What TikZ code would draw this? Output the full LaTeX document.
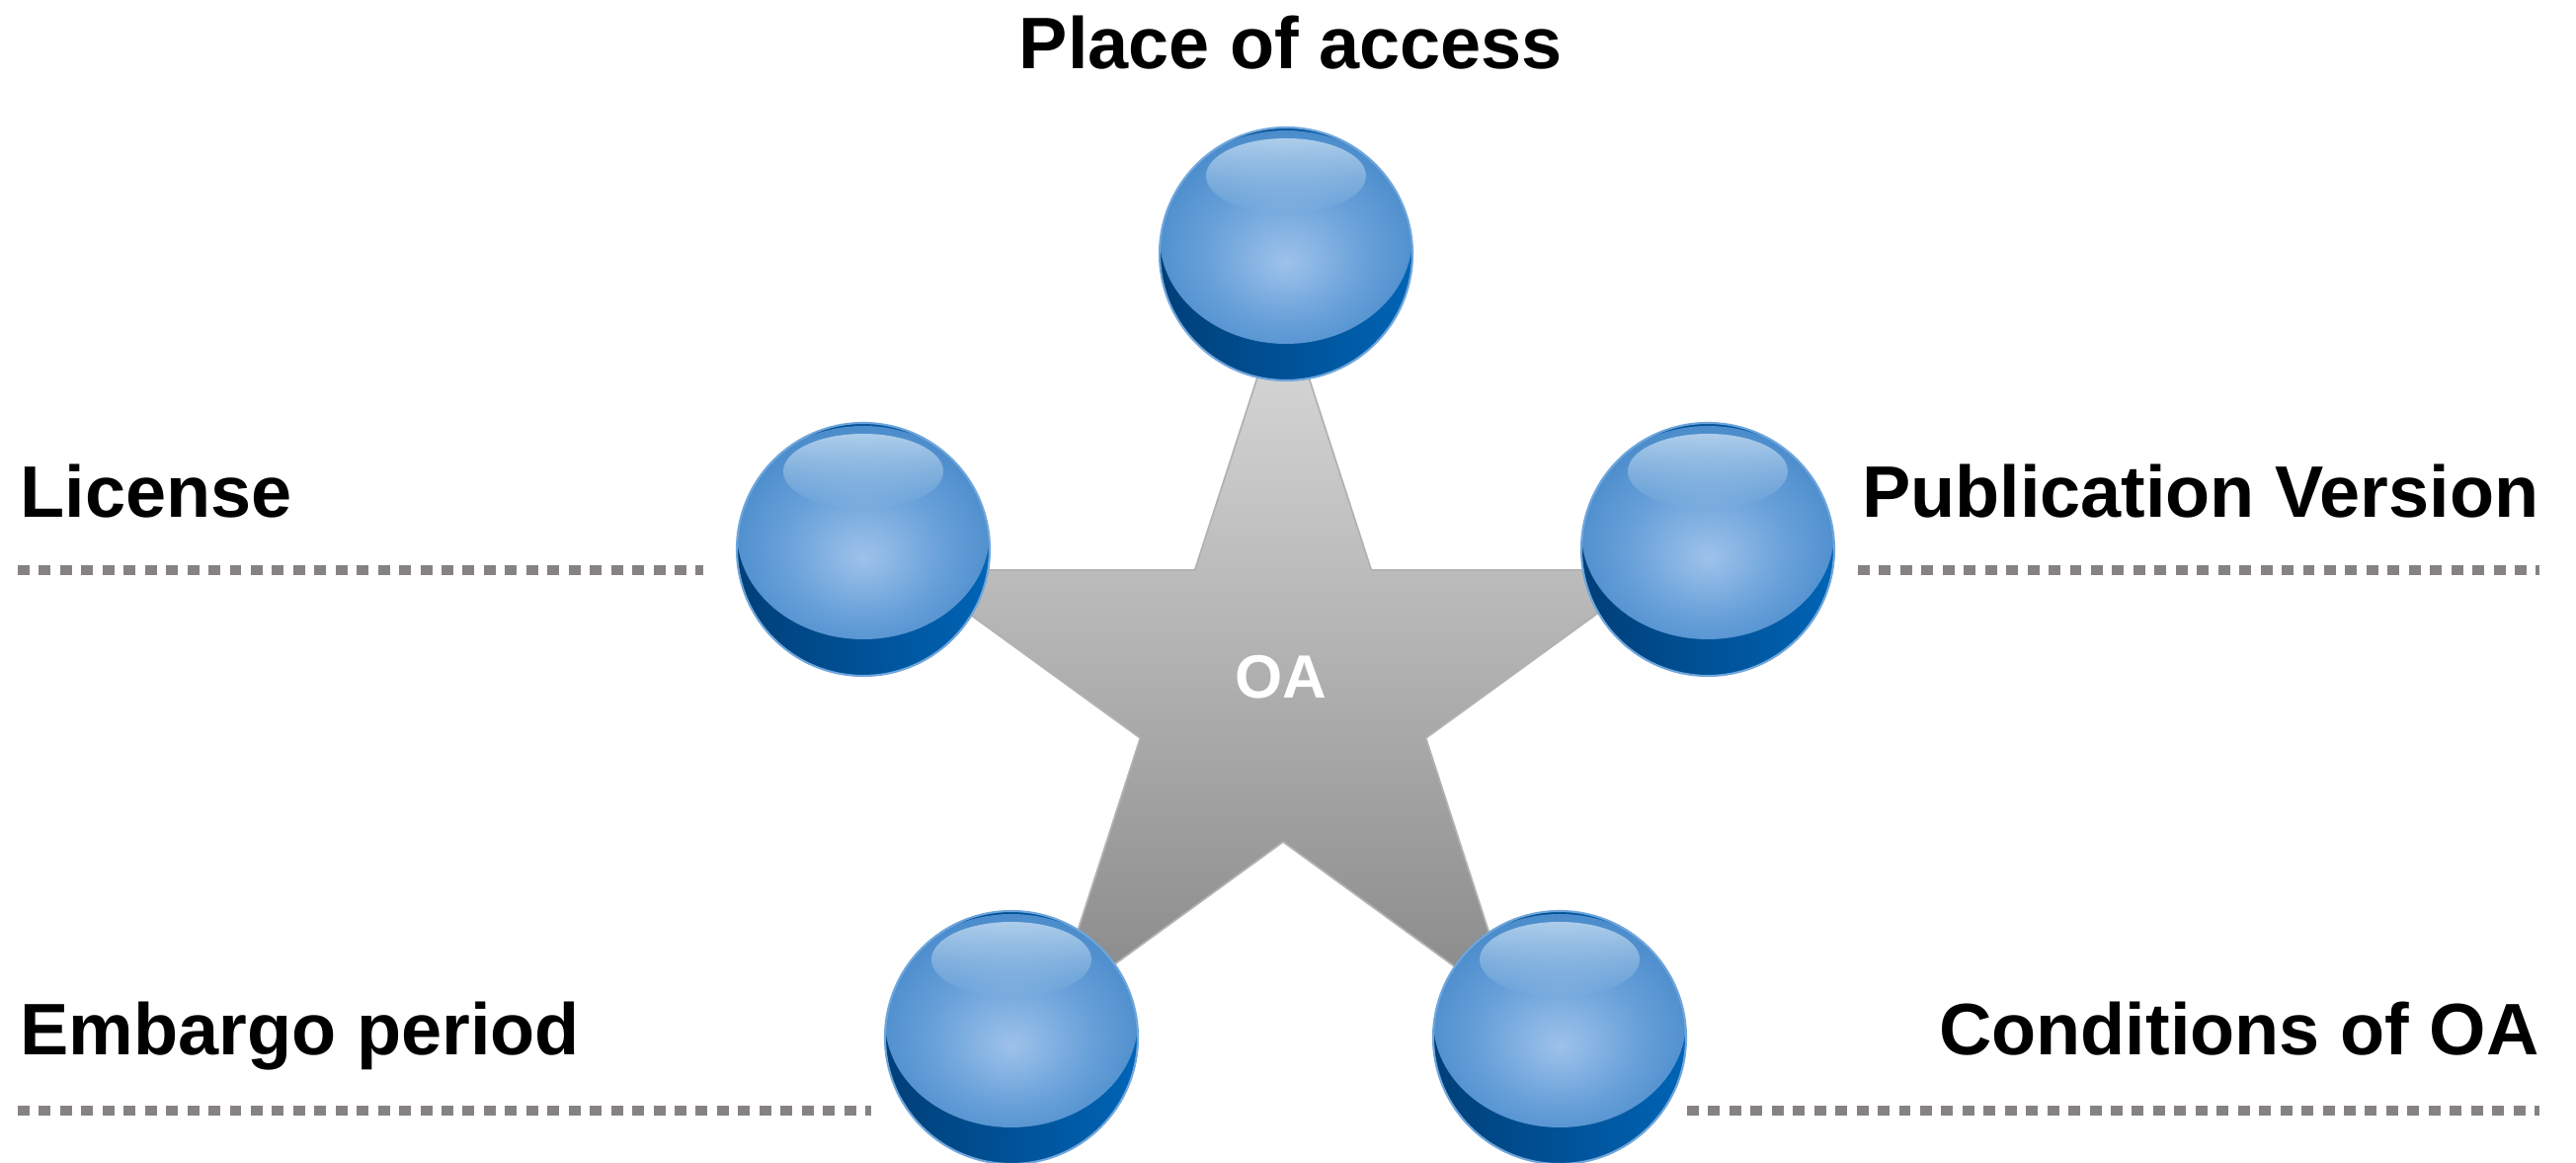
\documentclass[tikz,border=0pt]{standalone}
\usepackage{fontspec}
\setmainfont{Liberation Sans}
\usetikzlibrary{fadings}

\definecolor{balldark}{HTML}{003F78}
\definecolor{balldeep}{HTML}{0064B6}
\definecolor{ballrim}{HTML}{3A80C4}
\definecolor{ballmid}{HTML}{6AA2DA}
\definecolor{ballhi}{HTML}{9EC2EA}
\definecolor{ballgloss}{HTML}{B8D4EE}
\definecolor{ballline}{HTML}{6FA6DC}
\definecolor{startop}{HTML}{DCDCDC}
\definecolor{starbot}{HTML}{888888}
\definecolor{dotgray}{HTML}{868283}

\pgfdeclareradialshading{ballglow}{\pgfpoint{0bp}{-6bp}}{color(0bp)=(ballhi); color(15bp)=(ballmid); color(34bp)=(ballrim); color(50bp)=(ballrim)}
\tikzfading[name=glossfade, top color=transparent!0, bottom color=transparent!100]

\tikzset{
  ball/.pic={
    \shade[left color=balldark, right color=balldeep] (0,0) circle (128);
    \begin{scope}
      \clip (0,0) circle (128);
      \shade[shading=ballglow] (0,-17) ellipse (128 and 108);
    \end{scope}
    \fill[ballgloss, path fading=glossfade, fill opacity=0.9] (0,-79) ellipse (81 and 38);
    \draw[ballline, line width=0.6pt] (0,0) circle (128);
  },
  heading/.style={font=\bfseries\fontsize{21}{25}\selectfont, inner sep=0pt},
  dotrule/.style={dotgray, line width=3.1pt, dash pattern=on 3.4pt off 2.7pt}
}

\begin{document}
\begin{tikzpicture}[x=0.01cm,y=-0.01cm]%
\useasboundingbox (0,0) rectangle (2608,1177);
% star behind the balls
\shade[top color=startop, bottom color=starbot, draw=gray!60, line width=0.5pt, shift={(1299,700)}]
  (-90:398) \foreach \k in {1,...,9}{ -- ({-90+36*\k}:{ifthenelse(mod(\k,2)==1,152,398)}) } -- cycle;
\node[font=\bfseries\fontsize{17.6}{20}\selectfont, text=white, inner sep=0pt, anchor=base] (oa) at (1297,707) {OA};
% balls
\foreach \p in {(1302,257),(874,556),(1729,556),(1024,1050),(1579,1050)}
  \pic at \p {ball};
% labels
\node[heading, anchor=base] (access) at (1307,70) {Place of access};
\node[heading, anchor=base west] (license) at (20,524) {License};
\node[heading, anchor=base east] (version) at (2571,524) {Publication Version};
\node[heading, anchor=base west] (embargo) at (20,1068) {Embargo period};
\node[heading, anchor=base east] (conditions) at (2571,1068) {Conditions of OA};
% dotted rules
\draw[dotrule] (18,577) -- (712,577);
\draw[dotrule] (1881,577) -- (2571,577);
\draw[dotrule] (18,1124) -- (882,1124);
\draw[dotrule] (1708,1124) -- (2571,1124);
\end{tikzpicture}
\end{document}
